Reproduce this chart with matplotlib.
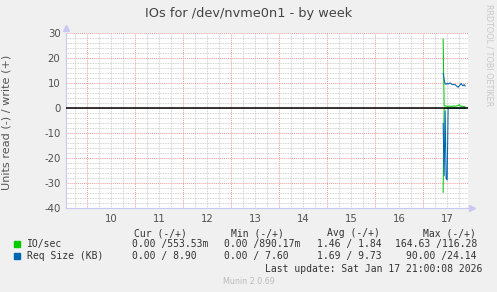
import numpy as np
import matplotlib
matplotlib.use("Agg")
from matplotlib import pyplot as plt
from matplotlib.ticker import MultipleLocator, FixedLocator, NullFormatter
from matplotlib.patches import Rectangle

plt.rcParams['axes.unicode_minus'] = False

# half-hour samples on Jan 17 (hour of day)
hours = np.arange(10.0, 21.01, 0.5)
io_write = [27.7, 1.0, 0.9, 0.9, 0.8, 0.8, 0.9, 0.8, 0.8, 0.8, 0.9, 0.9,
            0.8, 0.9, 1.0, 1.1, 1.5, 0.9, 0.8, 0.9, 0.8, 0.7, 0.55]
io_read = [33.6, 0.1, 0.05, 0.05, 0.02, 0.0, 0.0, 0.02, 0.0, 0.0, 0.0, 0.0,
           0.0, 0.0, 0.0, 0.0, 0.0, 0.0, 0.0, 0.0, 0.0, 0.0, 0.0]
req_write = [14.0, 11.5, 9.8, 9.6, 10.0, 9.7, 9.9, 10.2, 9.8, 9.5, 9.6, 9.4,
             9.5, 9.1, 8.7, 8.4, 8.9, 9.4, 10.0, 9.3, 9.0, 9.5, 8.9]
req_read = [6.0, 27.0, 1.0, 28.0, 28.7, 0.2, 0.0, 0.0, 0.0, 0.0, 0.0, 0.0,
            0.0, 0.0, 0.0, 0.0, 0.0, 0.0, 0.0, 0.0, 0.0, 0.0, 0.0]

days = [10, 11, 12, 13, 14, 15, 16, 17]
series_names = ["IO/sec", "Req Size (KB)"]
series_colors = ["#00CC00", "#0066B3"]
cur = ["0.00 /553.53m", "0.00 / 8.90"]
mins = ["0.00 /890.17m", "0.00 / 7.60"]
avgs = ["1.46 / 1.84", "1.69 / 9.73"]
maxs = ["164.63 /116.28", "90.00 /24.14"]

W, H = 497, 292
fig = plt.figure(figsize=(W / 100, H / 100), dpi=100, facecolor="#F0F0F0")


def fx(x):
    return x / W


def fy(y):
    return 1 - y / H


ax = fig.add_axes([fx(66), fy(208.3), fx(468 - 66), (208.3 - 33.3) / H])
ax.set_facecolor("white")

x = 17 + hours / 24
ax.plot(x, io_write, color=series_colors[0], lw=0.75)
ax.plot(x, -np.array(io_read), color=series_colors[0], lw=0.75)
ax.plot(x, req_write, color=series_colors[1], lw=0.75)
ax.plot(x, -np.array(req_read), color=series_colors[1], lw=0.75)
ax.axhline(0, color="black", lw=1.1, zorder=3)

ax.set_xlim(9.556, 17.935)
ax.set_ylim(-40, 30)

ax.yaxis.set_major_locator(MultipleLocator(10))
ax.yaxis.set_minor_locator(MultipleLocator(2))
ax.xaxis.set_major_locator(MultipleLocator(1))
ax.xaxis.set_minor_locator(MultipleLocator(0.25))
ax.xaxis.set_major_formatter(NullFormatter())

ax.grid(which="minor", color="#C4C4C4", linestyle=(0, (1, 1)), lw=0.6)
ax.grid(which="major", color="#EE9A9A", linestyle=(0, (1, 1)), lw=0.7)
ax.set_axisbelow(True)

for s in ["top", "right"]:
    ax.spines[s].set_visible(False)
for s in ["left", "bottom"]:
    ax.spines[s].set_color("#C8C8F0")
    ax.spines[s].set_linewidth(0.8)

ax.tick_params(which="both", length=0, colors="#C8C8F0")
ax.tick_params(axis="y", labelsize=7.3, labelcolor="#505050", pad=4)
ax.plot([0], [1.03], marker="^", ms=4, color="#C8C8F0", transform=ax.transAxes, clip_on=False)
ax.plot([1.01], [0], marker=">", ms=4, color="#C8C8F0", transform=ax.transAxes, clip_on=False)

sec = ax.secondary_xaxis("bottom")
sec.xaxis.set_major_locator(FixedLocator([d + 0.5 for d in days]))
sec.set_xticklabels([str(d) for d in days])
sec.tick_params(length=0, labelsize=7.3, labelcolor="#505050", pad=4)
sec.spines["bottom"].set_visible(False)

ax.set_ylabel("Units read (-) / write (+)", fontsize=8.1, color="#555555")
ax.yaxis.set_label_coords(-55 / 402, 0.49)

fig.text(0.5, fy(13), "IOs for /dev/nvme0n1 - by week", ha="center", va="center",
         fontsize=9.3, color="#444444")
fig.text(fx(489.5), fy(55), "RRDTOOL / TOBI OETIKER", rotation=270, ha="center",
         va="center", fontsize=5.8, color="#C8C8C8")

mono = dict(family="DejaVu Sans Mono", fontsize=7, color="#333333", va="center")
for label, xp in zip(["Cur (-/+)", "Min (-/+)", "Avg (-/+)", "Max (-/+)"], [134, 231, 327, 423]):
    fig.text(fx(xp), fy(233.3), label, **mono)

rows_y = [244.3, 256]
col_x = [131.7, 224, 317.3]
for i in range(2):
    y = rows_y[i]
    fig.patches.append(Rectangle((fx(14), fy(y + 2.5)), fx(6), 6 / H,
                                 transform=fig.transFigure, color=series_colors[i]))
    fig.text(fx(26.7), fy(y), series_names[i], **mono)
    for xp, txt in zip(col_x, [cur[i], mins[i], avgs[i]]):
        fig.text(fx(xp), fy(y), txt, **mono)
    fig.text(fx(477), fy(y), maxs[i], ha="right", **mono)

fig.text(fx(482.3), fy(268.7), "Last update: Sat Jan 17 21:00:08 2026", ha="right", **mono)
fig.text(0.5, fy(281.7), "Munin 2.0.69", ha="center", va="center", fontsize=5.8, color="#BBBBBB")

fig.savefig("out.png", dpi=100, facecolor=fig.get_facecolor())
